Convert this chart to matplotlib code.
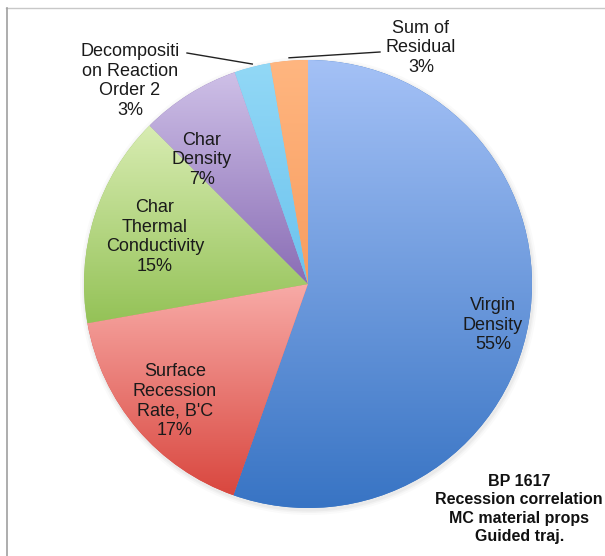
import matplotlib
matplotlib.use("Agg")
import matplotlib.pyplot as plt
import numpy as np
from matplotlib.colors import to_rgb
from matplotlib.lines import Line2D
from matplotlib.patches import Circle

plt.rcParams['font.family'] = ['Liberation Sans', 'DejaVu Sans']

labels = ["Virgin\nDensity\n55%", "Surface\nRecession\nRate, B'C\n17%",
          "Char\nThermal\nConductivity\n15%", "Char\nDensity\n7%",
          "Decompositi\non Reaction\nOrder 2\n3%", "Sum of\nResidual\n3%"]
shares = [55.4, 16.8, 15.3, 7.2, 2.6, 2.7]
top_colors = ['#A4C1F6', '#F8ABA7', '#D8ECB2', '#CEC0E7', '#92D8F6', '#FFB680']
bot_colors = ['#3874C4', '#D9473F', '#94C257', '#8A6DB5', '#6CC3EE', '#F89D60']
# label centres in image pixels (x, y from top)
label_pos = [(493, 325), (175, 401), (155, 237), (202, 160), (130, 81), (421, 48)]
note = "BP 1617\nRecession correlation\nMC material props\nGuided traj."

W, H = 605, 556
cx, cy, r = 308, H - 284, 224

fig = plt.figure(figsize=(W / 100, H / 100), dpi=100)
ax = fig.add_axes([0, 0, 1, 1])

# soft shadow
for k, a in [(5, 0.04), (3, 0.06), (1.5, 0.08)]:
    ax.add_patch(Circle((cx + 1, cy - 2), r + k, color='#888888', alpha=a, lw=0, zorder=0))

wedges, _ = ax.pie(shares, startangle=90, counterclock=False, center=(cx, cy),
                   radius=r, wedgeprops=dict(linewidth=0, edgecolor='none'))

for w, ct, cb in zip(wedges, top_colors, bot_colors):
    w.set_facecolor(cb)
    ext = w.get_path().get_extents()
    t = np.linspace(0, 1, 200)[:, None]
    c0, c1 = np.array(to_rgb(cb)), np.array(to_rgb(ct))
    img = (c0 * (1 - t) + c1 * t)[:, None, :]
    im = ax.imshow(img, extent=(ext.x0, ext.x1, ext.y0, ext.y1), origin='lower',
                   aspect='auto', interpolation='bilinear', zorder=2)
    im.set_clip_path(w)

for lab, (x, y) in zip(labels, label_pos):
    ax.text(x, H - y, lab, ha='center', va='center', fontsize=13,
            linespacing=1.2, color='#1a1a1a', zorder=5)

# leader lines for the two small slices
cum = np.cumsum([0] + shares)
for i, (tx, ty) in [(4, (187, 53)), (5, (380, 52))]:
    mid = 90 - 3.6 * (cum[i] + cum[i + 1]) / 2
    ex = cx + r * np.cos(np.radians(mid))
    ey = cy + r * np.sin(np.radians(mid))
    ax.plot([tx, ex], [H - ty, ey + 3], color='#222222', lw=1.0, zorder=6)

ax.text(603, H - 509, note, ha='right', va='center', multialignment='center',
        fontsize=11.5, fontweight='bold', linespacing=1.25, color='#111111', zorder=5)

fig.add_artist(Line2D([6 / W, 1], [1 - 8 / H, 1 - 8 / H], color='#c8c8c8', lw=1))
fig.add_artist(Line2D([6.5 / W, 6.5 / W], [0, 1 - 8 / H], color='#a0a0a0', lw=1.2))

ax.set_xlim(0, W)
ax.set_ylim(0, H)
ax.set_aspect('auto')
ax.axis('off')
fig.savefig('out.png', dpi=100)
